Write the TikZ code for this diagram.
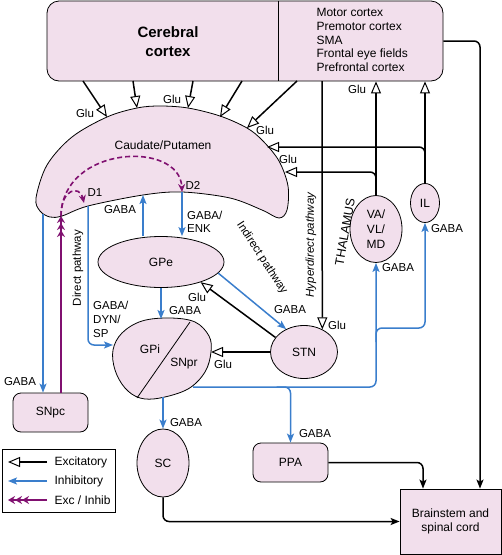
\documentclass[tikz,border=0pt]{standalone}
\usepackage{fontspec}
\setmainfont{Liberation Sans}
\usetikzlibrary{arrows.meta,shapes.geometric,positioning}
\definecolor{nucfill}{RGB}{242,223,236}
\definecolor{inhblue}{RGB}{58,126,204}
\definecolor{modpurple}{RGB}{128,16,112}

\begin{document}
\begin{tikzpicture}[x=1pt,y=-1pt,font=\fontsize{12}{14}\selectfont,
  nuc/.style={draw=black,line width=0.8pt,fill=nucfill},
  oval/.style={nuc,ellipse,inner sep=0pt},
  rbox/.style={nuc,rounded corners=8pt,inner sep=0pt},
  lbl/.style={font=\fontsize{11.5}{13}\selectfont,inner sep=1pt},
  pwy/.style={font=\fontsize{11.5}{13}\selectfont,inner sep=0pt},
  exc/.style={line width=1.5pt,-{Triangle[length=12pt,width=10pt,line width=1pt,fill=white]}},
  excf/.style={line width=1.5pt,rounded corners=6pt,-{Stealth[length=9pt,width=7pt,inset=2pt]}},
  inh/.style={inhblue,line width=1.5pt,rounded corners=6pt,-{Stealth[length=9pt,width=7pt,inset=2pt]}},
  mod/.style={modpurple,line width=1.6pt},
  triple/.style={-{Stealth[length=7pt,width=8pt] Stealth[length=7pt,width=8pt] Stealth[length=7pt,width=8pt]}}]
  \useasboundingbox (0,0) rectangle (502,555);

  \node[rbox,rounded corners=12pt,minimum width=396,minimum height=80] (ctx) at (245,41) {};
  \coordinate (div) at (278,0);
  \draw[line width=0.8pt] (div |- ctx.north) -- (div |- ctx.south);
  \node[font=\bfseries\fontsize{15}{19}\selectfont,align=center] (ctxname) at (168,42) {Cerebral\\cortex};
  \node[anchor=west,align=left,font=\fontsize{12}{13.75}\selectfont] (ctxareas) at (313,40) {Motor cortex\\Premotor cortex\\SMA\\Frontal eye fields\\Prefrontal cortex};

  \draw[nuc] plot[smooth cycle,tension=0.55] coordinates {(36,198) (40,211) (50,217) (62,216) (88,206) (143,195) (182,192) (230,198) (262,210) (279,218) (287,210) (288,186) (279,161) (263,141) (247,128) (220,116) (188,108) (160,106) (137,108) (107,117) (72,137) (47,165)};
  \node (caud) at (163,145) {Caudate/Putamen};
  \coordinate (cu1) at (107,117); \coordinate (cu2) at (137,108); \coordinate (cu3) at (188,108);
  \coordinate (cu4) at (220,117); \coordinate (cu5) at (247,128);
  \coordinate (cil) at (267,147); \coordinate (cva) at (285,172);
  \coordinate (cl) at (43,214); \coordinate (cpu) at (61,216); \coordinate (cd1) at (88,206);
  \coordinate (d1tip) at (84,203); \coordinate (cg) at (143,195); \coordinate (cd2) at (182,192);

  \node[oval,minimum width=126,minimum height=51] (gpe) at (161,262) {GPe};
  \node[oval,minimum width=67,minimum height=53] (stn) at (304,352) {STN};
  \node[oval,minimum width=52,minimum height=67,align=center,font=\fontsize{12}{15}\selectfont] (va) at (376,229) {VA/\\VL/\\MD};
  \node[oval,minimum width=29,minimum height=39] (il) at (425,203) {IL};
  \node[rbox,minimum width=75,minimum height=39] (snpc) at (50.5,412.5) {SNpc};
  \node[oval,minimum width=52,minimum height=68] (sc) at (163,463) {SC};
  \node[rbox,minimum width=75,minimum height=39] (ppa) at (290.5,462.5) {PPA};
  \node[nuc,minimum width=101,minimum height=65,align=center] (bs) at (450.5,521.5) {Brainstem and\\spinal cord};

  \draw[nuc] plot[smooth cycle,tension=0.6] coordinates {(170,318) (195,322) (209,336) (211,352) (205,372) (188,389) (160,398) (140,398) (125,388) (115,370) (113,350) (122,333) (142,321)};
  \coordinate (gpitop) at (190,322); \coordinate (gpibot) at (137,398);
  \draw[line width=0.8pt] (gpitop) -- (gpibot);
  \node (gpi) at (150,349) {GPi};
  \node (snpr) at (184,364) {SNpr};
  \coordinate (gpiw) at (113,345); \coordinate (gpin) at (161,319); \coordinate (gpie) at (211,352);
  \coordinate (snout) at (193,387); \coordinate (gpis) at (163,397);

  \coordinate (ct1) at (83,81); \coordinate (ct2) at (133,81); \coordinate (ct3) at (193,81);
  \coordinate (ct4) at (242,81); \coordinate (ct5) at (297,81); \coordinate (hyp) at (322,81);
  \draw[exc] (ct1) -- (cu1); \draw[exc] (ct2) -- (cu2); \draw[exc] (ct3) -- (cu3);
  \draw[exc] (ct4) -- (cu4); \draw[exc] (ct5) -- (cu5);
  \node[lbl] (g1) at (85,113) {Glu};
  \node[lbl] (g3) at (172,99) {Glu};
  \node[lbl] (g5) at (265,130) {Glu};

  \draw[exc] (hyp) -- (stn.51);
  \node[lbl] (ghyp) at (337,325) {Glu};
  \draw[exc] (va.north) -- (va.north |- ctx.south);
  \node[lbl] (gva) at (357,89) {Glu};
  \draw[exc] (il.north) -- (il.north |- ctx.south);
  \draw[exc,rounded corners=6pt] (va.north) |- (cva);
  \draw[exc,rounded corners=6pt] (il.north) |- (cil);
  \node[lbl] (gth) at (288,159) {Glu};

  \draw[excf] (ctx.east) -| ([xshift=29.5pt]bs.north);
  \draw[excf] (ppa.east) -| ([xshift=-27.5pt]bs.north);
  \draw[excf] (sc.south) |- (bs.west);

  \draw[inh] (cg |- gpe.north) -- (cg);
  \node[lbl] (gaba1) at (120,210) {GABA};
  \draw[inh] (cd2) -- (cd2 |- gpe.north);
  \node[lbl,anchor=west,align=left] (enk) at (186,222) {GABA/\\ENK};
  \draw[inh] (cl) -- (cl |- snpc.north);
  \node[lbl] (gaba2) at (20,382) {GABA};
  \draw[inh] (cd1) |- (gpiw);
  \node[lbl,anchor=west,align=left,font=\fontsize{11.5}{14}\selectfont] (dyn) at (92,319) {GABA/\\DYN/\\SP};
  \draw[inh] (gpe.south) -- (gpe.south |- gpin);
  \node[lbl] (gaba3) at (185,311) {GABA};
  \draw[inh] (gpe.-11) -- (stn.128);
  \node[lbl] (gaba4) at (290,310) {GABA};
  \draw[exc] (stn.west) -- (gpie);
  \node[lbl] (gstn1) at (223,364) {Glu};
  \draw[exc] (stn.153) -- (gpe.-27);
  \node[lbl] (gstn2) at (197,297) {Glu};

  \draw[inh] (snout) -| (va.south);
  \node[lbl] (gaba5) at (398,268) {GABA};
  \coordinate (brk) at (376,328);
  \draw[inh] ([yshift=-14pt]brk) -- (brk) -| (il.south);
  \node[lbl] (gaba6) at (447,229) {GABA};
  \draw[inh] ([xshift=-14pt]ppa.north |- snout) -| (ppa.north);
  \node[lbl] (gaba7) at (315,434) {GABA};
  \draw[inh] (gpis) -- (sc.north);
  \node[lbl] (gaba8) at (186,423) {GABA};

  \draw[mod,triple] (cpu |- snpc.north) -- (cpu);
  \draw[mod,dash pattern=on 5pt off 3pt,-{Stealth[length=8pt,width=7pt]}] (cpu) .. controls (61,188) and (80,185) .. (d1tip);
  \draw[mod,dash pattern=on 5pt off 3pt,-{Stealth[length=8pt,width=7pt]}] (cpu) .. controls (62,145) and (180,140) .. (cd2);
  \node[lbl] (d1) at (95,193) {D1};
  \node[lbl] (d2) at (193,185) {D2};

  \node[pwy,rotate=90] (direct) at (78,268) {Direct pathway};
  \node[pwy,rotate=-57] (indirect) at (262,258) {Indirect pathway};
  \node[pwy,rotate=90,font=\itshape\fontsize{11.5}{13}\selectfont] (hyper) at (311,245) {Hyperdirect pathway};
  \node[pwy,rotate=80,font=\fontsize{12.5}{14}\selectfont] (thal) at (345,232) {THALAMUS};

  \node[draw,line width=1pt,minimum width=113,minimum height=63,inner sep=0pt] (key) at (58.5,480.5) {};
  \coordinate (k1) at (47,462); \coordinate (k1e) at (8,462);
  \coordinate (k2) at (47,481); \coordinate (k2e) at (8,481);
  \coordinate (k3) at (47,500); \coordinate (k3e) at (8,500);
  \draw[exc] (k1) -- (k1e);
  \draw[inh] (k2) -- (k2e);
  \draw[mod,triple] (k3) -- (k3e);
  \node[anchor=west] (k1t) at (51,462) {Excitatory};
  \node[anchor=west] (k2t) at (51,481) {Inhibitory};
  \node[anchor=west] (k3t) at (51,500) {Exc / Inhib};
\end{tikzpicture}
\end{document}
